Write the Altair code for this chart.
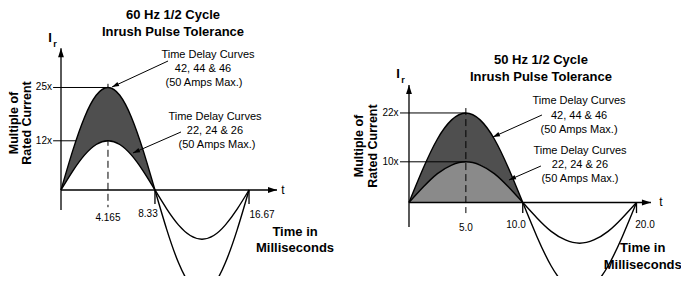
import math
import altair as alt
import pandas as pd

# ---------------- data ----------------
# 60 Hz panel: sample times (ms) over one full cycle and the two pulse curves (multiple of rated current)
T60 = [0, 1.04, 2.08, 3.12, 4.165, 5.21, 6.25, 7.29, 8.33, 9.37, 10.41, 11.46, 12.5, 13.54, 14.58, 15.63, 16.67]
BIG60 = [0, 9.6, 17.7, 23.1, 25, 23.1, 17.7, 9.6, 0, -9.6, -17.7, -23.1, -25, -23.1, -17.7, -9.6, 0]
SMALL60 = [0, 4.6, 8.5, 11.1, 12, 11.1, 8.5, 4.6, 0, -4.6, -8.5, -11.1, -12, -11.1, -8.5, -4.6, 0]

# 50 Hz panel
T50 = [0, 1.25, 2.5, 3.75, 5.0, 6.25, 7.5, 8.75, 10.0, 11.25, 12.5, 13.75, 15.0, 16.25, 17.5, 18.75, 20.0]
BIG50 = [0, 8.4, 15.6, 20.3, 22, 20.3, 15.6, 8.4, 0, -8.4, -15.6, -20.3, -22, -20.3, -15.6, -8.4, 0]
SMALL50 = [0, 3.8, 7.1, 9.2, 10, 9.2, 7.1, 3.8, 0, -3.8, -7.1, -9.2, -10, -9.2, -7.1, -3.8, 0]

TITLE60 = ["60 Hz 1/2 Cycle", "Inrush Pulse Tolerance"]
TITLE50 = ["50 Hz 1/2 Cycle", "Inrush Pulse Tolerance"]
LEVELS60 = [25, 12]
LEVEL_LABELS60 = ["25x", "12x"]
LEVELS50 = [22, 10]
LEVEL_LABELS50 = ["22x", "10x"]
PEAK60 = 4.165
PEAK50 = 5.0
TICKS60 = [8.33, 16.67]
TICKS50 = [10.0, 20.0]
TICK_LABELS60 = ["4.165", "8.33", "16.67"]
TICK_LABELS50 = ["5.0", "10.0", "20.0"]
ANNOT_UPPER60 = ["Time Delay Curves", "42, 44 & 46", "(50 Amps Max.)"]
ANNOT_LOWER60 = ["Time Delay Curves", "22, 24 & 26", "(50 Amps Max.)"]
ANNOT_UPPER50 = ["Time Delay Curves", "42, 44 & 46", "(50 Amps Max.)"]
ANNOT_LOWER50 = ["Time Delay Curves", "22, 24 & 26", "(50 Amps Max.)"]
YTITLE = ["Multiple of", "Rated Current"]
XTITLE = ["Time in", "Milliseconds"]
AXIS_T = "t"
AXIS_I = "I"
AXIS_I_SUB = "r"

FONT = "Liberation Sans"
DARK = "#4f4f4f"
MID = "#8a8a8a"
ARROW_PATH = "M0,0L-2,-0.65L-2,0.65Z"


def panel(cfg):
    W, H = cfg["W"], cfg["H"]
    xd, yd = cfg["xdom"], cfg["ydom"]
    kx = W / (xd[1] - xd[0])
    ky = H / (yd[1] - yd[0])
    xs = alt.Scale(domain=xd, nice=False, zero=False)
    ys = alt.Scale(domain=yd, nice=False, zero=False)

    def xe(f="t"):
        return alt.X(f"{f}:Q", scale=xs, axis=None)

    def ye(f="v"):
        return alt.Y(f"{f}:Q", scale=ys, axis=None)

    curves = pd.DataFrame({"t": cfg["T"], "big": cfg["BIG"], "small": cfg["SMALL"]})
    half = curves[curves.t <= cfg["ticks"][0] + 1e-9]

    def segs(rows):
        return pd.DataFrame(rows, columns=["t", "v", "t2", "v2"])

    def seg_layer(rows, dash=None, width=1.2, color="black"):
        kw = dict(color=color, strokeWidth=width, clip=True)
        if dash:
            kw["strokeDash"] = dash
        return alt.Chart(segs(rows)).mark_rule(**kw).encode(
            x=xe("t"), y=ye("v"), x2="t2:Q", y2="v2:Q")

    def text_layer(rows, **kw):
        df = pd.DataFrame(rows, columns=["t", "v", "label"])
        base = dict(font=FONT, color="black", clip=True)
        base.update(kw)
        return alt.Chart(df).mark_text(**base).encode(x=xe("t"), y=ye("v"), text="label:N")

    def arrow_rows(items):
        rows = []
        for (tt, vt, th, vh) in items:
            dx = (th - tt) * kx
            dy = -(vh - vt) * ky
            ang = math.degrees(math.atan2(dy, dx)) % 360
            rows.append((th, vh, ang))
        return pd.DataFrame(rows, columns=["t", "v", "angle"])

    def head_layer(df, size):
        return alt.Chart(df).mark_point(shape=ARROW_PATH, filled=True, size=size, color="black",
                                        opacity=1, strokeWidth=0, clip=True).encode(
            x=xe("t"), y=ye("v"), angle=alt.Angle("angle:Q", scale=None))

    layers = []
    lv = cfg["levels"]
    peak = cfg["peak"]
    under = []
    over = []
    level_rows = [(cfg["lvl_x0"], lv[0], peak, lv[0])]
    lower_level = [(cfg["lvl_x0"], lv[1], peak, lv[1])]
    dash_rows = [(peak, cfg["dash"][0], peak, cfg["dash"][1])]
    if cfg["over"]:
        over += [seg_layer(lower_level, width=1.0), seg_layer(dash_rows, dash=[7, 4], width=1.0)]
    else:
        under += [seg_layer(lower_level, width=1.0), seg_layer(dash_rows, dash=[7, 4], width=1.0)]
    layers += under

    layers.append(alt.Chart(half).mark_area(interpolate="natural", color=DARK, opacity=1).encode(
        x=xe("t"), y=ye("big"), y2="small:Q"))
    if cfg["fill_lower"]:
        layers.append(alt.Chart(half).mark_area(interpolate="natural", color=MID, opacity=1).encode(
            x=xe("t"), y=ye("small"), y2=alt.datum(0)))
    layers += over
    layers.append(seg_layer(level_rows, width=1.0))

    for col in ["big", "small"]:
        layers.append(alt.Chart(curves).mark_line(interpolate="natural", color="black",
                                                  strokeWidth=1.4, clip=True).encode(
            x=xe("t"), y=ye(col)))

    # axes
    ax = cfg["axes"]
    axis_rows = [(0, ax["ybot"], 0, ax["ytop"]), (0, 0, ax["xend"], 0)]
    for tk in cfg["ticks"]:
        axis_rows.append((tk, 0, tk, cfg["tick_bot"]))
    layers.append(seg_layer(axis_rows, width=1.3))
    layers.append(head_layer(pd.DataFrame({"t": [0, ax["xend"]], "v": [ax["ytop"], 0],
                                           "angle": [270, 0]}), 81))

    # annotation arrows
    arr = cfg["arrows"]
    layers.append(seg_layer([a for a in arr], width=1.0))
    layers.append(head_layer(arrow_rows(arr), 49))

    # texts
    ttl = cfg["title_pos"]
    layers.append(text_layer([(ttl[0], ttl[1], cfg["title"][0]), (ttl[0], ttl[2], cfg["title"][1])],
                             fontSize=13, fontWeight="bold", align="center", baseline="middle"))
    xt = cfg["xtitle_pos"]
    layers.append(text_layer([(xt[0], xt[1], XTITLE[0]), (xt[0], xt[2], XTITLE[1])],
                             fontSize=13, fontWeight="bold", align="center", baseline="middle"))
    yt = cfg["ytitle_pos"]
    layers.append(text_layer([(yt[0], yt[2], YTITLE[0]), (yt[1], yt[2], YTITLE[1])],
                             fontSize=12.5, fontWeight="bold", align="center", baseline="middle", angle=270))
    ip = cfg["i_pos"]
    layers.append(text_layer([(ip[0], ip[1], AXIS_I)], fontSize=13, fontWeight="bold",
                             align="center", baseline="middle"))
    layers.append(text_layer([(ip[2], ip[3], AXIS_I_SUB)], fontSize=9, fontWeight="bold",
                             align="center", baseline="middle"))
    tp = cfg["t_pos"]
    layers.append(text_layer([(tp, 0, AXIS_T)], fontSize=12, align="center", baseline="middle"))
    lp = cfg["lvl_label_t"]
    layers.append(text_layer([(lp, lv[0], cfg["level_labels"][0]), (lp, lv[1], cfg["level_labels"][1])],
                             fontSize=10, align="right", baseline="middle"))
    layers.append(text_layer([(p[0], p[1], lab) for p, lab in zip(cfg["tick_label_pos"], cfg["tick_labels"])],
                             fontSize=10, align="center", baseline="middle"))
    ann = []
    for (pos, lines) in [(cfg["ann_upper_pos"], cfg["ann_upper"]), (cfg["ann_lower_pos"], cfg["ann_lower"])]:
        for (tt, vv), lab in zip(pos, lines):
            ann.append((tt, vv, lab))
    layers.append(text_layer(ann, fontSize=11, align="center", baseline="middle"))

    return alt.layer(*layers).properties(width=W, height=H)


H = 268
left_cfg = dict(
    W=336, H=H, xdom=[-4.699, 25.09], ydom=[-20.98, 44.39],
    T=T60, BIG=BIG60, SMALL=SMALL60, levels=LEVELS60, level_labels=LEVEL_LABELS60,
    peak=PEAK60, ticks=TICKS60, tick_labels=TICK_LABELS60, tick_bot=-3.4,
    lvl_x0=-0.7, dash=[25.9, -4.2], over=False, fill_lower=False,
    axes=dict(ytop=34.6, ybot=-4.9, xend=19.15),
    arrows=[(9.49, 31.46, 4.52, 25.12), (10.64, 14.15, 6.38, 9.02)],
    title=TITLE60, title_pos=(9.93, 42.68, 38.54),
    xtitle_pos=(20.75, -10.24, -14.15), ytitle_pos=(-4.21, -3.03, 16.34),
    i_pos=(-0.975, 37.07, -0.53, 35.6), t_pos=19.68, lvl_label_t=-0.8,
    tick_label_pos=[(4.165, -6.83), (7.71, -5.85), (17.82, -6.1)],
    ann_upper=ANNOT_UPPER60, ann_upper_pos=[(13.03, 32.93), (12.59, 29.51), (12.68, 26.1)],
    ann_lower=ANNOT_LOWER60, ann_lower_pos=[(13.65, 17.8), (13.65, 14.39), (13.83, 10.98)],
)
right_cfg = dict(
    W=337, H=H, xdom=[-5.714, 23.912], ydom=[-18.06, 47.79],
    T=T50, BIG=BIG50, SMALL=SMALL50, levels=LEVELS50, level_labels=LEVEL_LABELS50,
    peak=PEAK50, ticks=TICKS50, tick_labels=TICK_LABELS50, tick_bot=-2.6,
    lvl_x0=-0.79, dash=[23.2, -2.6], over=True, fill_lower=True,
    axes=dict(ytop=28.9, ybot=-6.0, xend=21.27),
    arrows=[(11.69, 21.5, 7.38, 16.09), (11.6, 8.97, 8.79, 5.53)],
    title=TITLE50, title_pos=(11.6, 35.01, 30.84),
    xtitle_pos=(20.55, -11.18, -15.36), ytitle_pos=(-4.396, -3.165, 13.88),
    i_pos=(-0.967, 31.57, -0.527, 30.2), t_pos=22.15, lvl_label_t=-0.92,
    tick_label_pos=[(5.0, -6.27), (9.41, -5.53), (20.75, -5.53)],
    ann_upper=ANNOT_UPPER50, ann_upper_pos=[(14.95, 24.94), (14.95, 21.25), (14.95, 17.81)],
    ann_lower=ANNOT_LOWER50, ann_lower_pos=[(15.03, 12.65), (15.03, 9.21), (15.03, 5.77)],
)

chart = alt.hconcat(panel(left_cfg), panel(right_cfg), spacing=0, bounds="flush").properties(
    padding=0, background="white"
).configure_view(stroke=None)

chart.save("out.html", embed_options={"renderer": "svg", "actions": False})
